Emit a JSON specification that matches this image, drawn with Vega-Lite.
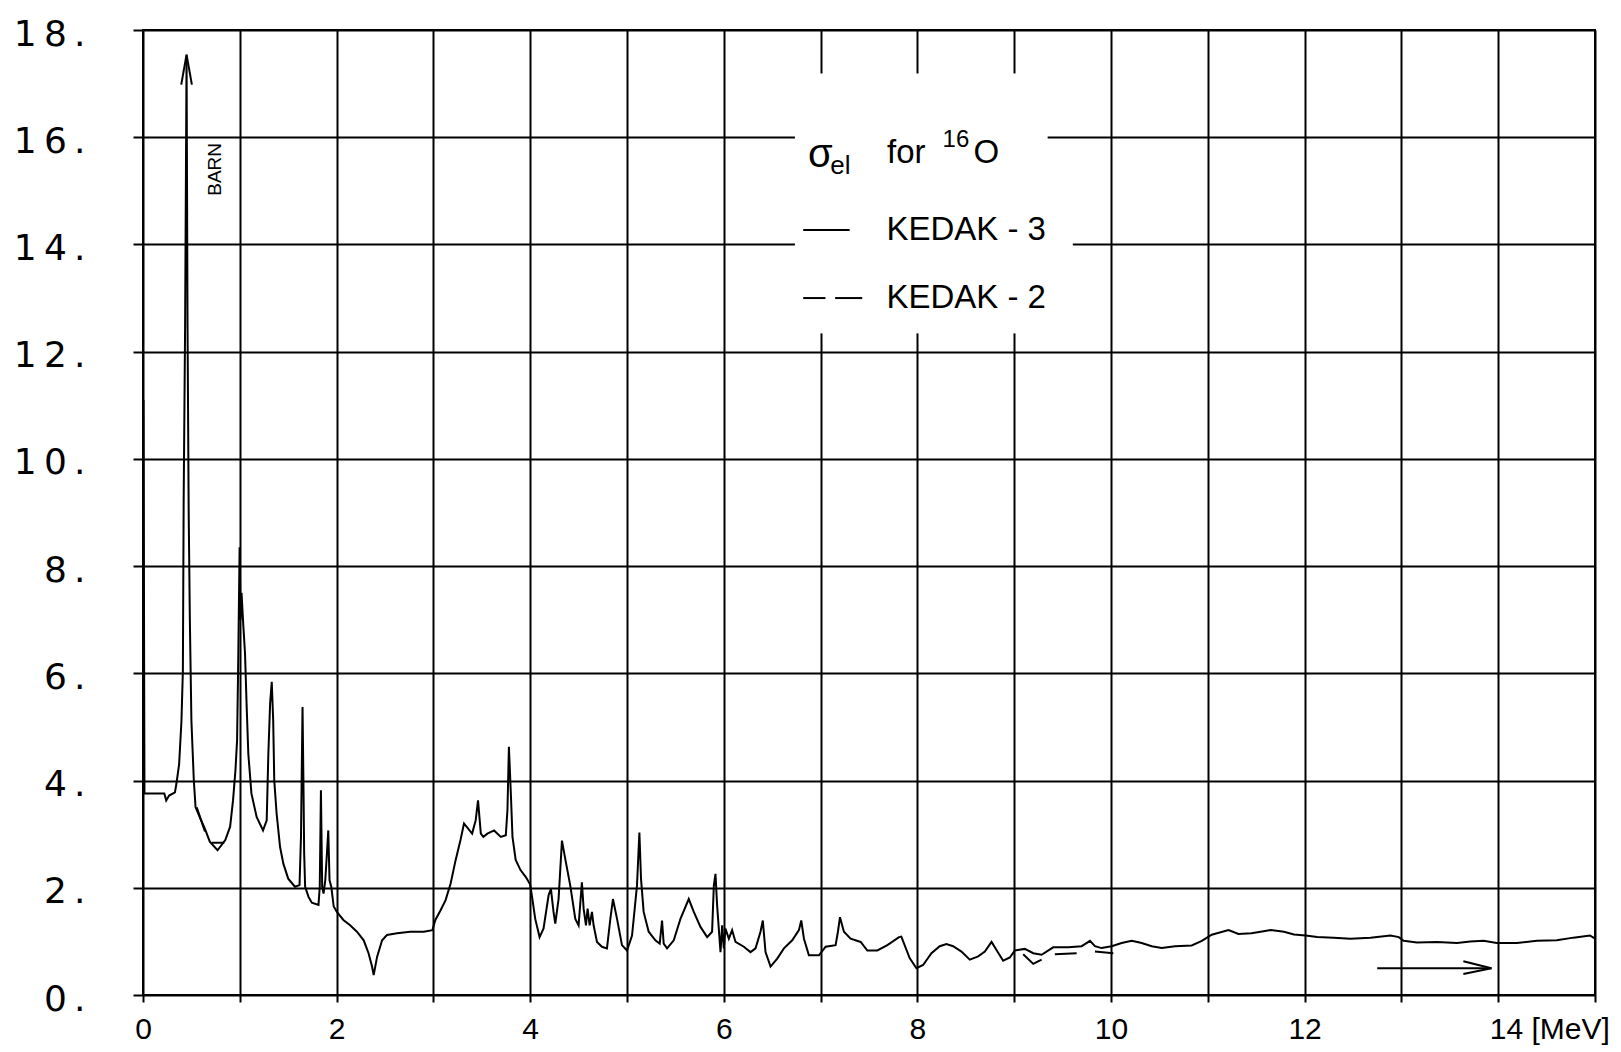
{
  "$schema": "https://vega.github.io/schema/vega-lite/v6.json",
  "width": 1452,
  "height": 965,
  "autosize": {"type": "none"},
  "padding": {"left": 143, "top": 30, "right": 26, "bottom": 57},
  "background": "white",
  "config": {
    "view": {"stroke": "black", "strokeWidth": 2},
    "axis": {"gridColor": "black", "gridOpacity": 1, "gridWidth": 2, "tickColor": "black", "tickWidth": 2, "domain": false, "labelColor": "black", "title": null}
  },
  "datasets": {
    "box": [
      {"x": 6.74, "x2": 9.34, "y": 14.8, "y2": 17.18},
      {"x": 6.74, "x2": 9.6, "y": 12.35, "y2": 15.0}
    ],
    "k3": [
      {"x":0.005,"y":11.1},{"x":0.015,"y":3.76},{"x":0.22,"y":3.76},{"x":0.24,"y":3.63},{"x":0.27,"y":3.72},{"x":0.33,"y":3.78},{"x":0.345,"y":3.94},{"x":0.373,"y":4.3},{"x":0.397,"y":5.1},{"x":0.412,"y":6.05},{"x":0.42,"y":9.2},{"x":0.435,"y":12.5},{"x":0.45,"y":17.5},{"x":0.46,"y":12.5},{"x":0.472,"y":9.0},{"x":0.484,"y":7.0},{"x":0.5,"y":5.12},{"x":0.525,"y":4.0},{"x":0.543,"y":3.5},{"x":0.57,"y":3.39},{"x":0.6,"y":3.26},{"x":0.64,"y":3.1},{"x":0.69,"y":2.86},{"x":0.77,"y":2.7},{"x":0.85,"y":2.89},{"x":0.9,"y":3.14},{"x":0.93,"y":3.63},{"x":0.955,"y":4.19},{"x":0.972,"y":4.75},{"x":0.985,"y":6.4},{"x":0.998,"y":8.35},{"x":1.008,"y":7.0},{"x":1.018,"y":7.5},{"x":1.036,"y":6.9},{"x":1.054,"y":6.37},{"x":1.07,"y":5.43},{"x":1.088,"y":4.5},{"x":1.12,"y":3.76},{"x":1.174,"y":3.32},{"x":1.24,"y":3.07},{"x":1.278,"y":3.26},{"x":1.295,"y":4.5},{"x":1.313,"y":5.43},{"x":1.33,"y":5.84},{"x":1.345,"y":5.12},{"x":1.356,"y":4.0},{"x":1.38,"y":3.39},{"x":1.416,"y":2.76},{"x":1.45,"y":2.45},{"x":1.5,"y":2.17},{"x":1.57,"y":2.02},{"x":1.617,"y":2.05},{"x":1.632,"y":2.95},{"x":1.648,"y":5.37},{"x":1.658,"y":3.88},{"x":1.665,"y":2.64},{"x":1.675,"y":2.02},{"x":1.71,"y":1.83},{"x":1.744,"y":1.72},{"x":1.813,"y":1.68},{"x":1.826,"y":2.02},{"x":1.838,"y":3.82},{"x":1.851,"y":2.02},{"x":1.865,"y":1.89},{"x":1.883,"y":2.14},{"x":1.9,"y":2.64},{"x":1.914,"y":3.07},{"x":1.927,"y":2.14},{"x":1.945,"y":2.02},{"x":1.97,"y":1.65},{"x":2.003,"y":1.55},{"x":2.07,"y":1.4},{"x":2.14,"y":1.3},{"x":2.21,"y":1.18},{"x":2.28,"y":1.02},{"x":2.33,"y":0.78},{"x":2.366,"y":0.53},{"x":2.383,"y":0.37},{"x":2.418,"y":0.71},{"x":2.47,"y":1.02},{"x":2.52,"y":1.12},{"x":2.625,"y":1.15},{"x":2.76,"y":1.18},{"x":2.9,"y":1.18},{"x":2.99,"y":1.21},{"x":3.02,"y":1.4},{"x":3.074,"y":1.58},{"x":3.126,"y":1.77},{"x":3.178,"y":2.08},{"x":3.23,"y":2.52},{"x":3.28,"y":2.89},{"x":3.316,"y":3.2},{"x":3.4,"y":3.01},{"x":3.437,"y":3.26},{"x":3.461,"y":3.63},{"x":3.49,"y":3.01},{"x":3.516,"y":2.95},{"x":3.558,"y":3.01},{"x":3.627,"y":3.07},{"x":3.696,"y":2.95},{"x":3.748,"y":2.98},{"x":3.765,"y":3.45},{"x":3.78,"y":4.63},{"x":3.8,"y":3.76},{"x":3.817,"y":2.95},{"x":3.85,"y":2.52},{"x":3.9,"y":2.33},{"x":3.955,"y":2.2},{"x":4.0,"y":2.06},
      {"x":4.017,"y":1.86},{"x":4.052,"y":1.42},{"x":4.097,"y":1.08},{"x":4.138,"y":1.24},{"x":4.19,"y":1.86},{"x":4.214,"y":1.98},{"x":4.241,"y":1.55},{"x":4.259,"y":1.33},{"x":4.293,"y":1.79},{"x":4.328,"y":2.88},{"x":4.362,"y":2.54},{"x":4.414,"y":2.04},{"x":4.466,"y":1.42},{"x":4.5,"y":1.3},{"x":4.534,"y":2.1},{"x":4.552,"y":1.61},{"x":4.576,"y":1.3},{"x":4.593,"y":1.61},{"x":4.614,"y":1.3},{"x":4.638,"y":1.55},{"x":4.655,"y":1.3},{"x":4.69,"y":0.99},{"x":4.741,"y":0.9},{"x":4.793,"y":0.87},{"x":4.828,"y":1.42},{"x":4.855,"y":1.79},{"x":4.897,"y":1.42},{"x":4.948,"y":0.93},{"x":5.0,"y":0.83},{"x":5.052,"y":1.11},{"x":5.103,"y":2.04},{"x":5.128,"y":3.03},{"x":5.145,"y":2.16},{"x":5.172,"y":1.55},{"x":5.224,"y":1.18},{"x":5.293,"y":1.02},{"x":5.338,"y":0.96},{"x":5.362,"y":1.39},{"x":5.379,"y":0.96},{"x":5.414,"y":0.87},{"x":5.483,"y":1.02},{"x":5.552,"y":1.42},{"x":5.638,"y":1.79},{"x":5.69,"y":1.55},{"x":5.759,"y":1.27},{"x":5.828,"y":1.08},{"x":5.879,"y":1.18},{"x":5.897,"y":2.04},{"x":5.914,"y":2.26},{"x":5.931,"y":1.67},{"x":5.966,"y":0.8},{"x":5.983,"y":1.3},{"x":6.0,"y":0.87},{"x":6.017,"y":1.24},{"x":6.052,"y":1.05},{"x":6.086,"y":1.21},{"x":6.121,"y":0.99},{"x":6.207,"y":0.9},{"x":6.276,"y":0.8},{"x":6.328,"y":0.87},{"x":6.379,"y":1.18},{"x":6.403,"y":1.39},{"x":6.431,"y":0.8},{"x":6.483,"y":0.53},{"x":6.552,"y":0.68},{"x":6.621,"y":0.87},{"x":6.707,"y":1.02},{"x":6.776,"y":1.21},{"x":6.8,"y":1.39},{"x":6.828,"y":1.05},{"x":6.879,"y":0.74},{"x":6.983,"y":0.74},{"x":7.052,"y":0.9},{"x":7.155,"y":0.93},{"x":7.179,"y":1.18},{"x":7.2,"y":1.45},{"x":7.241,"y":1.18},{"x":7.31,"y":1.05},{"x":7.414,"y":0.99},{"x":7.483,"y":0.83},{"x":7.586,"y":0.83},{"x":7.69,"y":0.93},{"x":7.81,"y":1.08},
      {"x":7.834,"y":1.09},{"x":7.92,"y":0.69},{"x":7.99,"y":0.5},{"x":8.059,"y":0.56},{"x":8.145,"y":0.78},{"x":8.231,"y":0.91},{"x":8.3,"y":0.95},{"x":8.369,"y":0.91},{"x":8.455,"y":0.81},{"x":8.541,"y":0.66},{"x":8.628,"y":0.72},{"x":8.697,"y":0.81},{"x":8.766,"y":0.99},{"x":8.817,"y":0.84},{"x":8.886,"y":0.64},{"x":8.955,"y":0.7},{"x":9.007,"y":0.83},{"x":9.11,"y":0.86},{"x":9.197,"y":0.78},{"x":9.283,"y":0.75},{"x":9.403,"y":0.89},{"x":9.559,"y":0.89},{"x":9.697,"y":0.91},{"x":9.783,"y":1.01},{"x":9.834,"y":0.91},{"x":9.903,"y":0.875},{"x":10.007,"y":0.91},{"x":10.11,"y":0.97},{"x":10.214,"y":1.01},{"x":10.317,"y":0.97},{"x":10.421,"y":0.91},{"x":10.524,"y":0.875},{"x":10.662,"y":0.91},{"x":10.834,"y":0.925},{"x":10.938,"y":1.01},{"x":11.041,"y":1.125},{"x":11.214,"y":1.21},{"x":11.317,"y":1.14},{"x":11.45,"y":1.15},{"x":11.546,"y":1.18},{"x":11.65,"y":1.21},{"x":11.787,"y":1.18},{"x":11.89,"y":1.13},{"x":12.01,"y":1.11},{"x":12.13,"y":1.08},{"x":12.3,"y":1.07},{"x":12.474,"y":1.05},{"x":12.68,"y":1.07},{"x":12.887,"y":1.11},{"x":12.973,"y":1.08},{"x":13.024,"y":1.01},{"x":13.16,"y":0.98},{"x":13.368,"y":0.99},{"x":13.574,"y":0.97},{"x":13.711,"y":1.0},{"x":13.849,"y":1.01},{"x":13.986,"y":0.97},{"x":14.192,"y":0.97},{"x":14.4,"y":1.01},{"x":14.605,"y":1.02},{"x":14.777,"y":1.07},{"x":14.948,"y":1.11},{"x":15.0,"y":1.05}
    ],
    "k2": [
      {"seg":"a","x":0.555,"y":3.5},{"seg":"a","x":0.64,"y":3.05},
      {"seg":"b","x":0.71,"y":2.84},{"seg":"b","x":0.84,"y":2.84},
      {"seg":"c","x":9.093,"y":0.76},{"seg":"c","x":9.197,"y":0.58},{"seg":"c","x":9.283,"y":0.66},
      {"seg":"d","x":9.42,"y":0.76},{"seg":"d","x":9.645,"y":0.78},
      {"seg":"e","x":9.834,"y":0.81},{"seg":"e","x":10.024,"y":0.78},
      {"seg":"L1","x":6.82,"y":13.0},{"seg":"L1","x":7.05,"y":13.0},
      {"seg":"L2","x":7.15,"y":13.0},{"seg":"L2","x":7.43,"y":13.0}
    ],
    "ann": [
      {"seg":"h1","x":0.395,"y":16.98},{"seg":"h1","x":0.45,"y":17.54},
      {"seg":"h2","x":0.45,"y":17.54},{"seg":"h2","x":0.505,"y":16.98},
      {"seg":"s","x":12.75,"y":0.5},{"seg":"s","x":13.93,"y":0.5},
      {"seg":"w1","x":13.64,"y":0.63},{"seg":"w1","x":13.93,"y":0.5},
      {"seg":"w2","x":13.64,"y":0.39},{"seg":"w2","x":13.93,"y":0.5},
      {"seg":"L3","x":6.82,"y":14.27},{"seg":"L3","x":7.3,"y":14.27}
    ],
    "t33": [
      {"x":7.686,"y":15.52,"t":"for"},
      {"x":8.58,"y":15.52,"t":"O"},
      {"x":7.68,"y":14.08,"t":"KEDAK - 3"},
      {"x":7.68,"y":12.82,"t":"KEDAK - 2"}
    ],
    "tsig": [{"x":6.87,"y":15.45,"t":"σ"}],
    "tsub": [{"x":7.1,"y":15.32,"t":"el"}],
    "tsup": [{"x":8.26,"y":15.82,"t":"16"}],
    "tbarn": [{"x":0.74,"y":15.4,"t":"BARN"}]
  },
  "encoding": {
    "x": {"field": "x", "type": "quantitative",
      "scale": {"domain": [0, 15], "nice": false, "zero": false},
      "axis": {
        "values": [0,1,2,3,4,5,6,7,8,9,10,11,12,13,14,15],
        "grid": true, "tickSize": 7, "labelPadding": 12,
        "labelFont": "Liberation Sans", "labelFontSize": 30, "labelBaseline": "top",
        "labelExpr": "datum.value % 2 == 0 ? (datum.value == 14 ? '14 [MeV]' : datum.value + '') : ''",
        "labelAlign": {"condition": {"test": "datum.value == 14", "value": "left"}, "value": "center"},
        "labelOffset": {"condition": {"test": "datum.value == 14", "value": -9}, "value": 0},
        "labelOverlap": false, "labelFlush": false, "labelBound": false
      }},
    "y": {"field": "y", "type": "quantitative",
      "scale": {"domain": [0, 18], "nice": false, "zero": false},
      "axis": {
        "values": [0,2,4,6,8,10,12,14,16,18],
        "grid": true, "tickSize": 10, "labelPadding": 48,
        "labelFont": "DejaVu Sans", "labelFontSize": 36, "labelBaseline": "middle",
        "labelOffset": 4,
        "labelExpr": "join(split(datum.value + '.', ''), '\u2009')",
        "labelOverlap": false, "labelFlush": false, "labelBound": false
      }}
  },
  "layer": [
    {
      "data": {"name": "box"},
      "mark": {"type": "rect", "fill": "white", "stroke": "white", "strokeWidth": 1},
      "encoding": {"x2": {"field": "x2"}, "y2": {"field": "y2"}}
    },
    {
      "data": {"name": "k3"},
      "mark": {"type": "line", "color": "black", "strokeWidth": 2},
      "encoding": {}
    },
    {
      "data": {"name": "k2"},
      "mark": {"type": "line", "color": "black", "strokeWidth": 2},
      "encoding": {"detail": {"field": "seg"}}
    },
    {
      "data": {"name": "ann"},
      "mark": {"type": "line", "color": "black", "strokeWidth": 2},
      "encoding": {"detail": {"field": "seg"}}
    },
    {
      "data": {"name": "t33"},
      "mark": {"type": "text", "font": "Liberation Sans", "fontSize": 33, "align": "left", "baseline": "alphabetic", "color": "black"},
      "encoding": {"text": {"field": "t"}}
    },
    {
      "data": {"name": "tsig"},
      "mark": {"type": "text", "font": "Liberation Sans", "fontSize": 40, "align": "left", "baseline": "alphabetic", "color": "black"},
      "encoding": {"text": {"field": "t"}}
    },
    {
      "data": {"name": "tsub"},
      "mark": {"type": "text", "font": "Liberation Sans", "fontSize": 26, "align": "left", "baseline": "alphabetic", "color": "black"},
      "encoding": {"text": {"field": "t"}}
    },
    {
      "data": {"name": "tsup"},
      "mark": {"type": "text", "font": "Liberation Sans", "fontSize": 24, "align": "left", "baseline": "alphabetic", "color": "black"},
      "encoding": {"text": {"field": "t"}}
    },
    {
      "data": {"name": "tbarn"},
      "mark": {"type": "text", "font": "Liberation Sans", "fontSize": 19, "align": "center", "baseline": "middle", "angle": 270, "color": "black"},
      "encoding": {"text": {"field": "t"}}
    }
  ]
}
